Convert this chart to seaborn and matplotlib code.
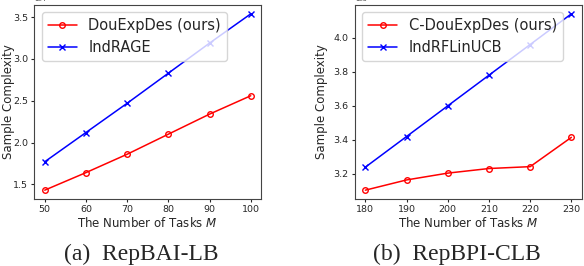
import pandas as pd
import numpy as np
import matplotlib.pyplot as plt
import seaborn as sns

# datos
tareas_a = [50, 60, 70, 80, 90, 100]
dou_a = [1.43e4, 1.64e4, 1.86e4, 2.10e4, 2.34e4, 2.56e4]
ind_a = [1.77e4, 2.12e4, 2.47e4, 2.83e4, 3.19e4, 3.54e4]

tareas_b = [180, 190, 200, 210, 220, 230]
dou_b = [3.105e6, 3.165e6, 3.205e6, 3.232e6, 3.243e6, 3.415e6]
ind_b = [3.24e6, 3.42e6, 3.60e6, 3.78e6, 3.96e6, 4.14e6]

nombres_a = ['DouExpDes (ours)', 'IndRAGE']
nombres_b = ['C-DouExpDes (ours)', 'IndRFLinUCB']
captions = ['(a)  RepBAI-LB', '(b)  RepBPI-CLB']

sns.set_style('white')
plt.rcParams['font.family'] = ['DejaVu Sans']

fig = plt.figure(figsize = (5.84, 2.66), dpi = 100)
ax1 = fig.add_axes([0.059, 0.252, 0.388, 0.729])
ax2 = fig.add_axes([0.608, 0.252, 0.388, 0.729])

paneles = [(ax1, tareas_a, dou_a, ind_a, nombres_a),
           (ax2, tareas_b, dou_b, ind_b, nombres_b)]

for ax, tareas, s1, s2, nombres in paneles:
  # seaborn no mezcla marcadores rellenos y de linea, asi que van por separado
  sns.lineplot(x = tareas, y = s1, color = 'red', marker = 'o', markersize = 4,
               markerfacecolor = 'none', markeredgecolor = 'red', markeredgewidth = 1.0,
               linewidth = 1.1, label = nombres[0], ax = ax)
  sns.lineplot(x = tareas, y = s2, color = 'blue', marker = 'x', markersize = 4,
               markeredgecolor = 'blue', markeredgewidth = 1.0, linewidth = 1.1,
               label = nombres[1], ax = ax)
  ax.ticklabel_format(axis = 'y', style = 'sci', scilimits = (0, 0))
  ax.set_xlabel('The Number of Tasks $M$', fontsize = 8.5, labelpad = 1)
  ax.set_ylabel('Sample Complexity', fontsize = 8.5)
  ax.tick_params(axis = 'both', labelsize = 6.8, length = 2.5, width = 0.8,
                 bottom = True, left = True, pad = 2)
  ax.yaxis.get_offset_text().set_fontsize(4.5)
  for sp in ax.spines.values():
    sp.set_color('#444444')
    sp.set_linewidth(0.8)
  ax.legend(loc = 'upper left', fontsize = 10.5, frameon = True, handlelength = 2.0)

ax1.yaxis.set_label_coords(-0.088, 0.5)
ax2.yaxis.set_label_coords(-0.118, 0.5)
ax1.set_xticks(tareas_a)
ax2.set_xticks(tareas_b)
ax1.set_yticks([1.5e4, 2.0e4, 2.5e4, 3.0e4, 3.5e4])
ax2.set_yticks([3.2e6, 3.4e6, 3.6e6, 3.8e6, 4.0e6])

fig.text(0.242, 0.045, captions[0], ha = 'center', va = 'center', fontsize = 17,
         family = 'Liberation Serif')
fig.text(0.783, 0.045, captions[1], ha = 'center', va = 'center', fontsize = 17,
         family = 'Liberation Serif')

plt.savefig('out.png', dpi = 100)
